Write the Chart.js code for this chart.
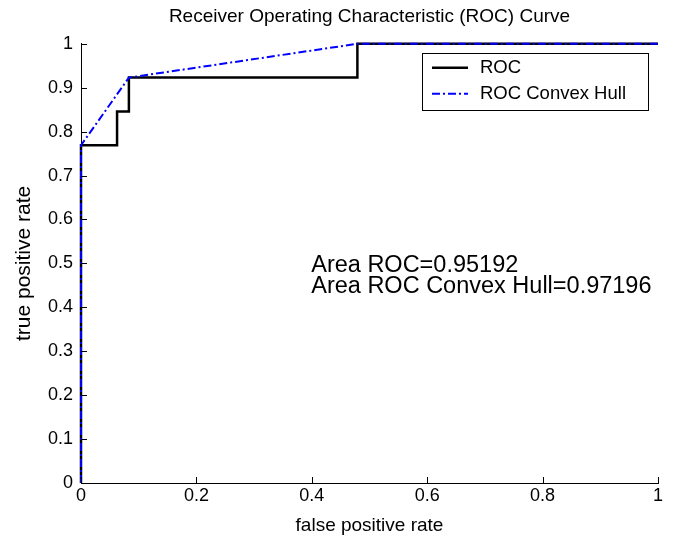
<!DOCTYPE html>
<html>
<head>
<meta charset="utf-8">
<script src="https://cdn.jsdelivr.net/npm/chart.js@4.4.1/dist/chart.umd.min.js"></script>
<style>
html,body{margin:0;padding:0;background:#fff;}
#wrap{width:673px;height:537px;}
</style>
</head>
<body>
<div id="wrap"><canvas id="c" width="673" height="537"></canvas></div>
<script>
// Data
const rocFpr  = [0, 0, 0.0625, 0.0625, 0.083, 0.083, 0.479, 0.479, 1];
const rocTpr  = [0, 0.769, 0.769, 0.846, 0.846, 0.923, 0.923, 1, 1];
const hullFpr = [0, 0, 0.083, 0.479, 1];
const hullTpr = [0, 0.769, 0.923, 1, 1];
const xTicks = [0, 0.2, 0.4, 0.6, 0.8, 1];
const yTicks = [0, 0.1, 0.2, 0.3, 0.4, 0.5, 0.6, 0.7, 0.8, 0.9, 1];
const seriesLabels = ['ROC', 'ROC Convex Hull'];
const areaLines = ['Area ROC=0.95192', 'Area ROC Convex Hull=0.97196'];

const FONT = '"Liberation Sans", Arial, sans-serif';

const toPts = (xs, ys) => xs.map((x, i) => ({x: x, y: ys[i]}));

const insideTicks = {
  id: 'insideTicks',
  afterDatasetsDraw(chart) {
    const ctx = chart.ctx, ca = chart.chartArea;
    const xs = chart.scales.x, ys = chart.scales.y;
    ctx.save();
    ctx.strokeStyle = '#000';
    ctx.lineWidth = 1;
    ctx.beginPath();
    xTicks.forEach(v => {
      const p = Math.round(xs.getPixelForValue(v)) + 0.5;
      ctx.moveTo(p, ca.bottom); ctx.lineTo(p, ca.bottom - 6);
    });
    yTicks.forEach(v => {
      const p = Math.round(ys.getPixelForValue(v)) + 0.5;
      ctx.moveTo(ca.left, p); ctx.lineTo(ca.left + 6, p);
    });
    ctx.stroke();
    ctx.restore();
  }
};

const boxLegend = {
  id: 'boxLegend',
  afterDraw(chart) {
    const ctx = chart.ctx, ca = chart.chartArea;
    const w = 226, h = 57;
    const x0 = ca.right - 10 - w, y0 = ca.top + 9;
    ctx.save();
    ctx.fillStyle = '#fff';
    ctx.fillRect(x0, y0, w, h);
    ctx.strokeStyle = '#000';
    ctx.lineWidth = 1;
    ctx.strokeRect(Math.round(x0) + 0.5, Math.round(y0) + 0.5, w, h);
    ctx.font = '18.5px ' + FONT;
    ctx.textBaseline = 'middle';
    chart.data.datasets.forEach((ds, i) => {
      const yy = y0 + 15 + i * 26;
      ctx.strokeStyle = ds.borderColor;
      ctx.lineWidth = ds.borderWidth;
      ctx.setLineDash(ds.borderDash || []);
      ctx.beginPath();
      ctx.moveTo(x0 + 10, yy); ctx.lineTo(x0 + 46, yy);
      ctx.stroke();
      ctx.setLineDash([]);
      ctx.fillStyle = '#000';
      ctx.fillText(ds.label, x0 + 58, yy);
    });
    ctx.restore();
  }
};

const areaText = {
  id: 'areaText',
  afterDraw(chart) {
    const ctx = chart.ctx;
    const xs = chart.scales.x, ys = chart.scales.y;
    const x = xs.getPixelForValue(0.399);
    const y = ys.getPixelForValue(0.48);
    ctx.save();
    ctx.font = '23.5px ' + FONT;
    ctx.fillStyle = '#000';
    ctx.textBaseline = 'alphabetic';
    areaLines.forEach((t, i) => ctx.fillText(t, x, y + i * 21));
    ctx.restore();
  }
};

new Chart(document.getElementById('c'), {
  type: 'scatter',
  data: {
    datasets: [
      {
        label: seriesLabels[0],
        data: toPts(rocFpr, rocTpr),
        showLine: true,
        borderColor: '#000000',
        borderWidth: 2.5,
        pointRadius: 0,
        fill: false,
        order: 1,
        clip: 6
      },
      {
        label: seriesLabels[1],
        data: toPts(hullFpr, hullTpr),
        showLine: true,
        borderColor: '#0000ff',
        borderWidth: 2,
        borderDash: [8, 3, 2, 3],
        pointRadius: 0,
        fill: false,
        order: 0,
        clip: 6
      }
    ]
  },
  options: {
    responsive: false,
    animation: false,
    devicePixelRatio: 1,
    layout: { padding: { left: 12, right: 15, top: 0, bottom: 0 } },
    plugins: {
      legend: { display: false },
      tooltip: { enabled: false },
      title: {
        display: true,
        fullSize: false,
        text: 'Receiver Operating Characteristic (ROC) Curve',
        color: '#000',
        font: { family: FONT, size: 19, weight: 'normal' },
        padding: { top: 5, bottom: 16 }
      }
    },
    scales: {
      x: {
        type: 'linear',
        min: 0, max: 1,
        afterBuildTicks: s => { s.ticks = xTicks.map(v => ({value: v})); },
        afterFit: s => { s.height = 54; },
        ticks: {
          color: '#000',
          font: { family: FONT, size: 18 },
          padding: 2,
          maxRotation: 0,
          callback: v => String(v)
        },
        grid: { display: true, drawOnChartArea: false, drawTicks: false },
        border: { display: true, color: '#000', width: 1 },
        title: {
          display: true,
          text: 'false positive rate',
          color: '#000',
          font: { family: FONT, size: 19 },
          padding: { top: 0, bottom: 0 }
        }
      },
      y: {
        type: 'linear',
        min: 0, max: 1,
        afterBuildTicks: s => { s.ticks = yTicks.map(v => ({value: v})); },
        afterFit: s => { s.width = 69; },
        ticks: {
          color: '#000',
          font: { family: FONT, size: 18 },
          padding: 8,
          callback: v => String(Math.round(v * 10) / 10)
        },
        grid: { display: true, drawOnChartArea: false, drawTicks: false },
        border: { display: true, color: '#000', width: 1 },
        title: {
          display: true,
          text: 'true positive rate',
          color: '#000',
          font: { family: FONT, size: 21 },
          padding: { top: 0, bottom: 0 }
        }
      }
    }
  },
  plugins: [insideTicks, boxLegend, areaText]
});
</script>
</body>
</html>
